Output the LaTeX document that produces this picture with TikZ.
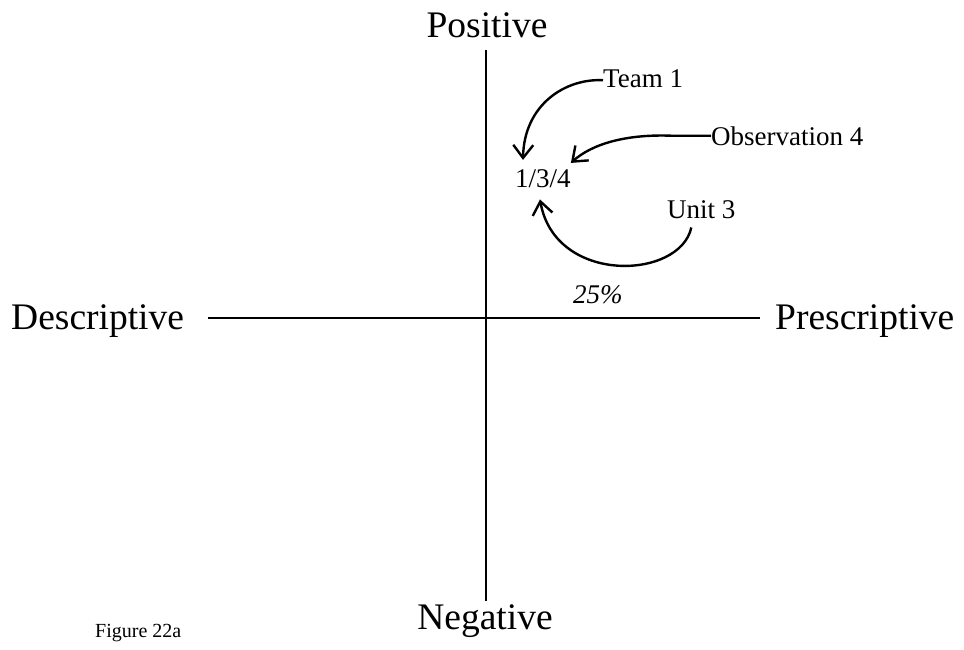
\documentclass[tikz,border=0pt]{standalone}
\usepackage{fontspec}
\setmainfont{Liberation Serif}
\usetikzlibrary{arrows.meta,calc}
\begin{document}
\begin{tikzpicture}[x=1pt,y=-1pt,
  big/.style={inner sep=0pt,font=\fontsize{37.5}{40}\selectfont},
  lab/.style={inner sep=0pt,font=\fontsize{27}{30}\selectfont},
  axisline/.style={line width=2pt},
  conn/.style={line width=2.4pt,-{Straight Barb[length=13pt,width=20pt,line width=2.4pt]}}]
\useasboundingbox[fill=white] (0,0) rectangle (964,649);
% axis labels
\node[big,anchor=base] (pos) at (487,37) {Positive};
\node[big,anchor=base] (neg) at (485,629) {Negative};
\node[big,anchor=base west] (desc) at (11,329) {Descriptive};
\node[big,anchor=base west] (pres) at (775,329) {Prescriptive};
% axes
\coordinate (vtop) at (486,50);
\coordinate (vbot) at (486,601);
\coordinate (hl) at (208,318);
\coordinate (hr) at (760,318);
\draw[axisline] (vtop) -- (vbot);
\draw[axisline] (hl) -- (hr);
% labels
\node[lab,anchor=base west] (team) at (603,87) {Team 1};
\node[lab,anchor=base west] (obs) at (711,145) {Observation 4};
\node[lab,anchor=base west] (n134) at (515,187) {1/3/4};
\node[lab,anchor=base west] (unit) at (667,218) {Unit 3};
\node[inner sep=0pt,anchor=base west,font=\fontsize{27}{30}\selectfont\itshape] (pct) at (573,303) {25\%};
\node[inner sep=0pt,anchor=base west,font=\fontsize{20}{24}\selectfont] (fig) at (95,637) {Figure 22a};
% arrow ends
\coordinate (t1) at ($(n134.north west)+(8,-9)$);
\coordinate (t2) at ($(n134.north east)+(0,-6)$);
\coordinate (t3) at ($(n134.south west)+(25,12)$);
\coordinate (u0) at ($(unit.south)+(-10,9)$);
% connectors
\draw[conn] ([yshift=-2pt]team.west) .. controls +(-38,-2) and (524,105) .. (t1);
\draw[conn] (obs.west) -- ++(-38,0) .. controls +(-47,-2) and (592,144) .. (t2);
\draw[conn] (u0) .. controls (680,280) and (555,285) .. (t3);
\end{tikzpicture}
\end{document}
